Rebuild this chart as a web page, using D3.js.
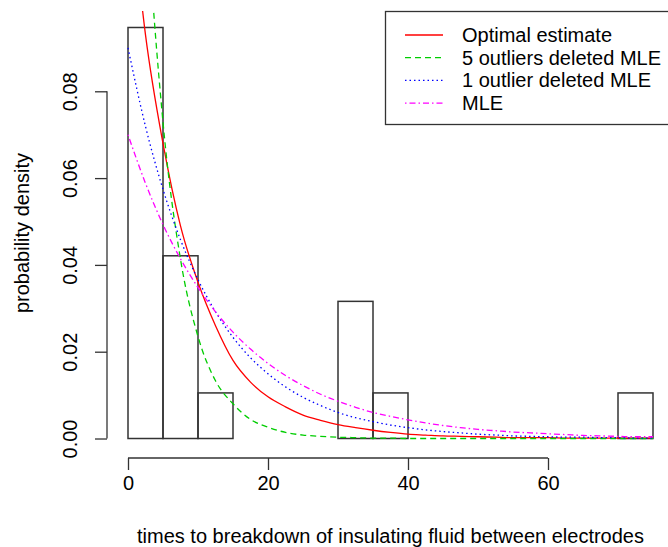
<!DOCTYPE html>
<html>
<head>
<meta charset="utf-8">
<script src="https://cdn.jsdelivr.net/npm/d3@7"></script>
<style>
  body { margin: 0; background: #fff; }
  svg { display: block; font-family: "Liberation Sans", Arial, sans-serif; }
</style>
</head>
<body>
<div id="chart"></div>
<script>
// histogram (breaks of width 5, density scale)
const breaks = [0, 5, 10, 15, 20, 25, 30, 35, 40, 45, 50, 55, 60, 65, 70, 75];
const histDensity = [0.0947, 0.0421, 0.0105, 0, 0, 0, 0.0316, 0.0105, 0, 0, 0, 0, 0, 0, 0.0105];

// curve sample positions and read-off densities
const xs = [0, 2.5, 5, 7.5, 10, 12.5, 15, 17.5, 20, 22.5, 25, 27.5, 30, 32.5, 35, 37.5,
  40, 42.5, 45, 47.5, 50, 52.5, 55, 57.5, 60, 62.5, 65, 67.5, 70, 72.5, 75];
const optimal = [0.131, 0.093, 0.068, 0.049, 0.036, 0.026, 0.018, 0.013, 0.0096, 0.0073, 0.0054, 0.0042,
  0.0032, 0.0025, 0.0019, 0.0014, 0.0010, 0.0008, 0.0006, 0.0005, 0.0004, 0.0003, 0.0002, 0.0002,
  0.0002, 0.0001, 0.0001, 0.0001, 0.0001, 0.0001, 0.0001];
const del5 = [0.227, 0.1286, 0.0729, 0.0413, 0.0235, 0.0133, 0.0080, 0.0044, 0.0026, 0.0014, 0.0008, 0.0005,
  0.0003, 0.0002, 0.0001, 0.0001, 0, 0, 0, 0, 0, 0, 0, 0, 0, 0, 0, 0, 0, 0, 0];
const del1 = [0.0900, 0.0719, 0.0574, 0.0458, 0.0366, 0.0292, 0.0233, 0.0186, 0.0149, 0.0119, 0.0095, 0.0076,
  0.0060, 0.0048, 0.0039, 0.0031, 0.0025, 0.0020, 0.0016, 0.0013, 0.0010, 0.0008, 0.0006, 0.0005,
  0.0004, 0.0003, 0.0003, 0.0002, 0.0002, 0.0001, 0.0001];
const mle = [0.0700, 0.0588, 0.0493, 0.0414, 0.0348, 0.0292, 0.0245, 0.0206, 0.0173, 0.0145, 0.0122, 0.0102,
  0.0086, 0.0072, 0.0060, 0.0051, 0.0043, 0.0036, 0.0030, 0.0025, 0.0021, 0.0018, 0.0015, 0.0013,
  0.0011, 0.0009, 0.0007, 0.0006, 0.0005, 0.0004, 0.0004];

const xTicks = [0, 20, 40, 60];
const yTicks = [0, 0.02, 0.04, 0.06, 0.08];

const series = [
  { name: 'Optimal estimate', values: optimal, color: '#ff0000', dash: null },
  { name: '5 outliers deleted MLE', values: del5, color: '#00cd00', dash: '6,4' },
  { name: '1 outlier deleted MLE', values: del1, color: '#0000ff', dash: '1.5,3' },
  { name: 'MLE', values: mle, color: '#ff00ff', dash: '1.5,3,6,3' },
];

const W = 668, H = 547;
const svg = d3.select('#chart').append('svg').attr('width', W).attr('height', H);

// R style usr region: 4% extension of the data range
const x = d3.scaleLinear().domain([-3, 78]).range([107, 674]);
const y = d3.scaleLinear().domain([-0.0038, 0.0985]).range([455, 11]);

svg.append('defs').append('clipPath').attr('id', 'plotclip')
  .append('rect')
  .attr('x', x(-3)).attr('y', y(0.0985))
  .attr('width', x(78) - x(-3)).attr('height', y(-0.0038) - y(0.0985));

// histogram bars
svg.append('g')
  .selectAll('rect')
  .data(histDensity)
  .enter()
  .append('rect')
  .attr('x', (d, i) => x(breaks[i]))
  .attr('y', d => y(d))
  .attr('width', (d, i) => x(breaks[i + 1]) - x(breaks[i]))
  .attr('height', d => y(0) - y(d))
  .attr('fill', 'none')
  .attr('stroke', '#333')
  .attr('stroke-width', 1.5);

// density curves
const line = d3.line()
  .x((d, i) => x(xs[i]))
  .y(d => y(d))
  .curve(d3.curveMonotoneX);

const curves = svg.append('g').attr('clip-path', 'url(#plotclip)');
series.forEach(s => {
  curves.append('path')
    .attr('d', line(s.values))
    .attr('fill', 'none')
    .attr('stroke', s.color)
    .attr('stroke-width', 1.3)
    .attr('stroke-dasharray', s.dash);
});

// x axis
const xAxis = d3.axisBottom(x).tickValues(xTicks).tickSize(12).tickPadding(6).tickFormat(d3.format('d'));
const gx = svg.append('g')
  .attr('transform', 'translate(0,' + 458 + ')')
  .call(xAxis);
gx.select('.domain').remove();
gx.append('line')
  .attr('x1', x(xTicks[0])).attr('x2', x(xTicks[xTicks.length - 1]))
  .attr('stroke', '#333').attr('stroke-width', 1.3);
gx.selectAll('.tick line').attr('stroke', '#333').attr('stroke-width', 1.3);
gx.selectAll('.tick text').attr('font-size', 20).attr('fill', '#000')
  .attr('font-family', '"Liberation Sans", Arial, sans-serif');

// y axis
const yAxis = d3.axisLeft(y).tickValues(yTicks).tickSize(12).tickPadding(6).tickFormat(d3.format('.2f'));
const gy = svg.append('g')
  .attr('transform', 'translate(107,0)')
  .call(yAxis);
gy.select('.domain').remove();
gy.append('line')
  .attr('y1', y(yTicks[0])).attr('y2', y(yTicks[yTicks.length - 1]))
  .attr('stroke', '#333').attr('stroke-width', 1.3);
gy.selectAll('.tick line').attr('stroke', '#333').attr('stroke-width', 1.3);
gy.selectAll('.tick text')
  .attr('font-size', 20).attr('fill', '#000')
  .attr('font-family', '"Liberation Sans", Arial, sans-serif')
  .attr('x', null).attr('dy', null)
  .attr('text-anchor', 'middle')
  .attr('transform', 'translate(-30,0) rotate(-90)')
  .attr('y', 0);

// axis titles
svg.append('text')
  .attr('x', (x(-3) + x(78)) / 2).attr('y', 543)
  .attr('text-anchor', 'middle').attr('font-size', 20)
  .text('times to breakdown of insulating fluid between electrodes');

svg.append('text')
  .attr('transform', 'translate(29,' + ((y(-0.0038) + y(0.0985)) / 2) + ') rotate(-90)')
  .attr('text-anchor', 'middle').attr('font-size', 20)
  .text('probability density');

// legend
const legend = svg.append('g');
legend.append('rect')
  .attr('x', 385.5).attr('y', 11.5).attr('width', 300).attr('height', 113)
  .attr('fill', '#fff').attr('stroke', '#333').attr('stroke-width', 1.3);
series.forEach((s, i) => {
  const ly = 35 + i * 22.7;
  legend.append('line')
    .attr('x1', 405).attr('x2', 443).attr('y1', ly).attr('y2', ly)
    .attr('stroke', s.color).attr('stroke-width', 1.3)
    .attr('stroke-dasharray', s.dash);
  legend.append('text')
    .attr('x', 462).attr('y', ly + 7)
    .attr('font-size', 20)
    .text(s.name);
});
</script>
</body>
</html>
